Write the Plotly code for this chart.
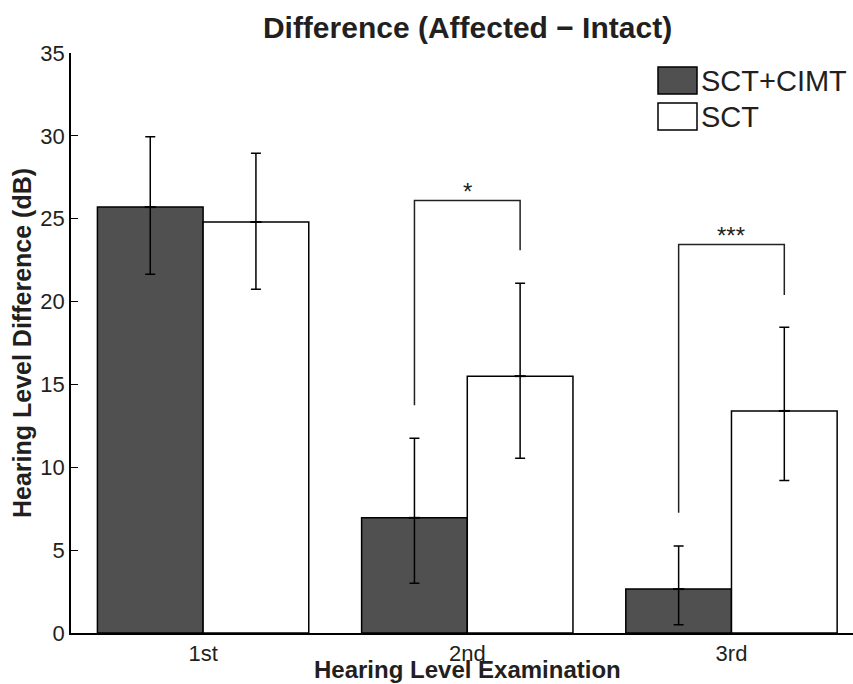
import plotly.graph_objects as go

# ---------------- data ----------------
exams = [1, 2, 3]
exam_labels = ["1st", "2nd", "3rd"]
series_names = ["SCT+CIMT", "SCT"]
x_title = "Hearing Level Examination"
y_title = "Hearing Level Difference (dB)"
chart_title = "Difference (Affected \u2212 Intact)"

sct_cimt_mean = [25.7, 6.95, 2.65]
sct_cimt_err_up = [4.25, 4.8, 2.6]
sct_cimt_err_dn = [4.05, 3.95, 2.15]

sct_mean = [24.8, 15.5, 13.4]
sct_err_up = [4.15, 5.6, 5.05]
sct_err_dn = [4.05, 4.95, 4.2]

# significance brackets: exam index, bracket top, left leg end, right leg end, label
sig_exam = [2, 3]
sig_top = [26.1, 23.45]
sig_left_end = [13.75, 7.25]
sig_right_end = [23.1, 20.4]
sig_label = ["*", "***"]

y_ticks = [0, 5, 10, 15, 20, 25, 30, 35]

# ---------------- style ----------------
FONT = "Liberation Sans, Arial, Helvetica, sans-serif"
TXT = "#231f20"
DARK = "#505050"
W, H = 853, 684
ML, MR, MT, MB = 71, 0, 53, 51
BAR_HALF = 0.2

fig = go.Figure()
fig.add_trace(go.Bar(
    x=exams, y=sct_cimt_mean, name=series_names[0],
    marker=dict(color=DARK, line=dict(color="black", width=1.5)),
    error_y=dict(type="data", symmetric=False, array=sct_cimt_err_up,
                 arrayminus=sct_cimt_err_dn, color="black", thickness=1.5, width=5),
    showlegend=False,
))
fig.add_trace(go.Bar(
    x=exams, y=sct_mean, name=series_names[1],
    marker=dict(color="white", line=dict(color="black", width=1.5)),
    error_y=dict(type="data", symmetric=False, array=sct_err_up,
                 arrayminus=sct_err_dn, color="black", thickness=1.5, width=5),
    showlegend=False,
))
# small mean marks drawn by the error-bar points
fig.add_trace(go.Scatter(
    x=[e - BAR_HALF for e in exams] + [e + BAR_HALF for e in exams],
    y=sct_cimt_mean + sct_mean, mode="markers",
    marker=dict(symbol="line-ew", size=8, line=dict(color="black", width=2)),
    showlegend=False, hoverinfo="skip",
))

shapes = []
annotations = []
for ex, top, le, re_, lab in zip(sig_exam, sig_top, sig_left_end, sig_right_end, sig_label):
    x1, x2 = ex - BAR_HALF, ex + BAR_HALF
    shapes.append(dict(type="path", xref="x", yref="y",
                       path=f"M {x1},{le} L {x1},{top} L {x2},{top} L {x2},{re_}",
                       line=dict(color="#222", width=1.5)))
    annotations.append(dict(x=ex, y=top, xref="x", yref="y", text=lab,
                            showarrow=False, yanchor="bottom", yshift=-7,
                            font=dict(family=FONT, size=24, color=TXT)))

pw, ph = W - ML - MR, H - MT - MB
def px_x(px):
    return (px - ML) / pw
def px_y(py):
    return (H - MB - py) / ph

# manual legend (large swatches as in the original)
leg_colors = [DARK, "white"]
leg_tops = [67, 103]
for name, col, top in zip(series_names, leg_colors, leg_tops):
    shapes.append(dict(type="rect", xref="paper", yref="paper",
                       x0=px_x(658), x1=px_x(697), y0=px_y(top + 27), y1=px_y(top),
                       fillcolor=col, line=dict(color="black", width=1.5)))
    annotations.append(dict(x=px_x(699), y=px_y(top + 13.5), xref="paper", yref="paper",
                            text=name, showarrow=False, xanchor="left", yanchor="middle",
                            font=dict(family=FONT, size=29, color=TXT)))

# x-axis title, centred on the (cropped) MATLAB axis as in the original
annotations.append(dict(x=px_x(467.5), y=px_y(669.5), xref="paper", yref="paper",
                        text=x_title, showarrow=False, xanchor="center", yanchor="middle",
                        font=dict(family=FONT, size=24, color=TXT, weight="bold")))

fig.update_layout(
    width=W, height=H,
    margin=dict(l=ML, r=MR, t=MT, b=MB),
    paper_bgcolor="white", plot_bgcolor="white",
    barmode="group", bargap=0.2, bargroupgap=0,
    font=dict(family=FONT, color=TXT, size=22),
    title=dict(text=chart_title,
               x=px_x(467.5), xref="paper", xanchor="center",
               y=1 - 27 / H, yref="container", yanchor="middle",
               font=dict(family=FONT, size=30, color=TXT, weight="bold")),
    xaxis=dict(range=[0.5, 3.46], tickvals=exams, ticktext=exam_labels,
               showline=True, linecolor="black", linewidth=1.5, ticks="",
               showgrid=False, zeroline=False,
               tickfont=dict(family=FONT, size=22, color=TXT)),
    yaxis=dict(range=[0, 35], tickvals=y_ticks,
               showline=True, linecolor="black", linewidth=1.5,
               ticks="inside", ticklen=7, tickcolor="black", tickwidth=1.2,
               showgrid=False, zeroline=False,
               tickfont=dict(family=FONT, size=22, color=TXT),
               title=dict(text=y_title, standoff=2,
                          font=dict(family=FONT, size=25, color=TXT, weight="bold"))),
    shapes=shapes, annotations=annotations,
)

fig.write_html("out.html")
